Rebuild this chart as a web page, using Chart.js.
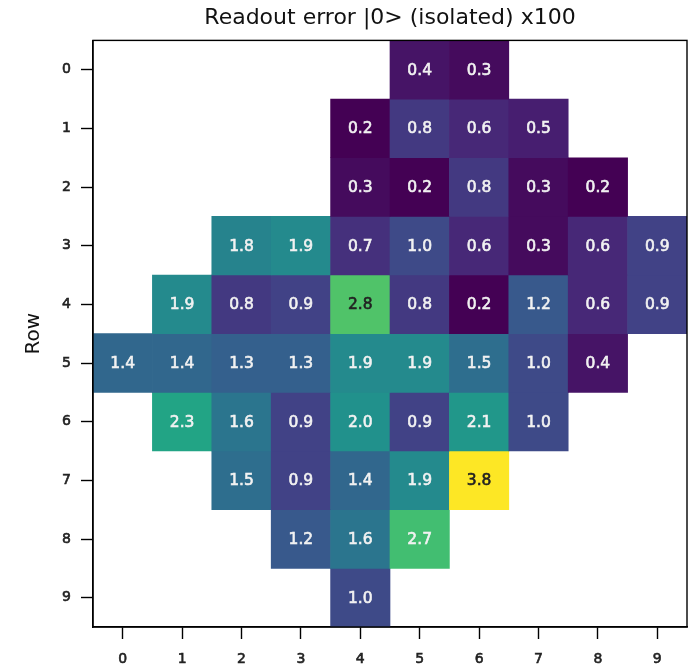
<!DOCTYPE html>
<html>
<head>
<meta charset="utf-8">
<script src="https://cdn.jsdelivr.net/npm/chart.js@4/dist/chart.umd.min.js"></script>
<style>
  html, body { margin: 0; padding: 0; background: #fff; }
  #wrap { width: 694px; height: 668px; }
</style>
</head>
<body>
<div id="wrap"><canvas id="c"></canvas></div>
<script>
// Grid columns (x) and row tick labels (y)
const columns = ['0', '1', '2', '3', '4', '5', '6', '7', '8', '9'];
const rowTicks = [0, 1, 2, 3, 4, 5, 6, 7, 8, 9];

// Readout error per qubit, one array per row (null = no qubit)
const row0 = [null, null, null, null, null, 0.4, 0.3, null, null, null];
const row1 = [null, null, null, null, 0.2, 0.8, 0.6, 0.5, null, null];
const row2 = [null, null, null, null, 0.3, 0.2, 0.8, 0.3, 0.2, null];
const row3 = [null, null, 1.8, 1.9, 0.7, 1.0, 0.6, 0.3, 0.6, 0.9];
const row4 = [null, 1.9, 0.8, 0.9, 2.8, 0.8, 0.2, 1.2, 0.6, 0.9];
const row5 = [1.4, 1.4, 1.3, 1.3, 1.9, 1.9, 1.5, 1.0, 0.4, null];
const row6 = [null, 2.3, 1.6, 0.9, 2.0, 0.9, 2.1, 1.0, null, null];
const row7 = [null, null, 1.5, 0.9, 1.4, 1.9, 3.8, null, null, null];
const row8 = [null, null, null, 1.2, 1.6, 2.7, null, null, null, null];
const row9 = [null, null, null, null, 1.0, null, null, null, null, null];
const rows = [row0, row1, row2, row3, row4, row5, row6, row7, row8, row9];

// Colour scale limits
const vmin = 0.2, vmax = 3.8;

// Viridis colormap anchor colours
const viridisStops = ['#440154', '#482475', '#414487', '#355f8d', '#2a788e',
                      '#21918c', '#22a884', '#44bf70', '#7ad151', '#bddf26', '#fde725'];
function hexToRgb(h) {
  return [parseInt(h.slice(1, 3), 16), parseInt(h.slice(3, 5), 16), parseInt(h.slice(5, 7), 16)];
}
function viridis(v) {
  let t = (v - vmin) / (vmax - vmin);
  t = Math.max(0, Math.min(1, t));
  const pos = t * (viridisStops.length - 1);
  const i = Math.min(Math.floor(pos), viridisStops.length - 2);
  const f = pos - i;
  const a = hexToRgb(viridisStops[i]), b = hexToRgb(viridisStops[i + 1]);
  const c = a.map((x, k) => Math.round(x + (b[k] - x) * f));
  return `rgb(${c[0]},${c[1]},${c[2]})`;
}

const FONT = 'DejaVu Sans';

const datasets = rows.map((vals, r) => ({
  label: 'Row ' + r,
  data: vals.map(v => (v === null ? null : [r - 0.5, r + 0.5])),
  backgroundColor: vals.map(v => (v === null ? 'rgba(0,0,0,0)' : viridis(v))),
  borderWidth: 0,
  grouped: false,
  barPercentage: 1,
  categoryPercentage: 1
}));

// Value text in every cell and the frame around the plot area
const cellText = {
  id: 'cellText',
  afterDatasetsDraw(chart) {
    const ctx = chart.ctx;
    const xs = chart.scales.x, ys = chart.scales.y;
    ctx.save();
    ctx.font = `15.5px "${FONT}"`;
    ctx.textAlign = 'center';
    ctx.textBaseline = 'middle';
    ctx.lineWidth = 0.6;
    rows.forEach((vals, r) => {
      vals.forEach((v, c) => {
        if (v === null) return;
        const col = v >= 2.8 ? '#222222' : '#f2f2f2';
        ctx.fillStyle = col;
        ctx.strokeStyle = col;
        const x = xs.getPixelForValue(c), y = ys.getPixelForValue(r) + 1;
        ctx.fillText(v.toFixed(1), x, y);
        ctx.strokeText(v.toFixed(1), x, y);
      });
    });
    const a = chart.chartArea;
    ctx.strokeStyle = '#000';
    ctx.lineWidth = 1.4;
    ctx.strokeRect(a.left, a.top, a.right - a.left, a.bottom - a.top);
    ctx.restore();
  }
};

new Chart(document.getElementById('c'), {
  type: 'bar',
  data: { labels: columns, datasets },
  options: {
    responsive: true,
    maintainAspectRatio: false,
    animation: false,
    layout: { padding: { left: 0, right: 7, top: 0, bottom: 0 } },
    plugins: {
      legend: { display: false },
      tooltip: { enabled: false },
      title: {
        display: true,
        fullSize: false,
        text: 'Readout error |0> (isolated) x100',
        color: '#111',
        font: { family: FONT, size: 22, weight: 'normal', lineHeight: 1.2 },
        padding: { top: 5, bottom: 9 }
      }
    },
    scales: {
      x: {
        type: 'category',
        offset: true,
        grid: { display: true, offset: false, drawOnChartArea: false, drawTicks: true,
                tickLength: 12, tickColor: '#000', tickWidth: 1.4 },
        border: { display: true, color: '#000', width: 1.4 },
        ticks: { color: '#222', font: { family: FONT, size: 14 }, padding: 12, maxRotation: 0,
                 textStrokeColor: '#222', textStrokeWidth: 0.6 },
        afterFit(s) { s.height = 41; }
      },
      y: {
        type: 'linear',
        reverse: true,
        min: -0.5,
        max: 9.5,
        afterBuildTicks(s) { s.ticks = rowTicks.map(v => ({ value: v })); },
        grid: { display: true, drawOnChartArea: false, drawTicks: true,
                tickLength: 12, tickColor: '#000', tickWidth: 1.4 },
        border: { display: true, color: '#000', width: 1.4 },
        ticks: { color: '#222', font: { family: FONT, size: 14 }, padding: 10,
                 textStrokeColor: '#222', textStrokeWidth: 0.6,
                 callback: v => String(v) },
        title: { display: true, text: 'Row', color: '#111',
                 font: { family: FONT, size: 20 }, padding: { top: 22, bottom: 0 } },
        afterFit(s) { s.width = 93; }
      }
    }
  },
  plugins: [cellText]
});
</script>
</body>
</html>
